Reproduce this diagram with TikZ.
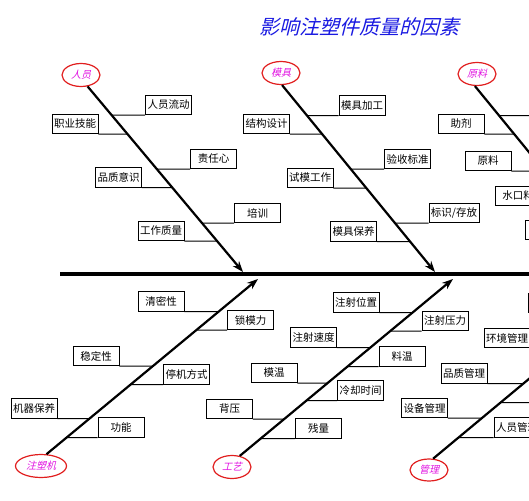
\documentclass[tikz,border=0pt]{standalone}
\usepackage{fontspec}
\newfontfamily\cjk{Noto Sans CJK SC}
\newfontfamily\cjkit[FakeSlant=0.25]{Noto Sans CJK SC}
\usetikzlibrary{arrows.meta,shapes.geometric}
\definecolor{titleblue}{RGB}{25,25,225}
\definecolor{groupred}{RGB}{225,30,30}
\definecolor{groupmag}{RGB}{225,20,225}
\tikzset{
  cause/.style={draw,line width=0.7pt,minimum width=46pt,minimum height=19.5pt,inner sep=1pt,font=\cjk\fontsize{10.5pt}{12pt}\selectfont},
  group/.style={ellipse,draw=groupred,line width=1.2pt,minimum width=38pt,minimum height=23pt,inner sep=0pt,text=groupmag,font=\cjkit\fontsize{10pt}{12pt}\selectfont},
  bone/.style={->,line width=2.2pt},
  twig/.style={line width=0.8pt},
}
\begin{document}
\begin{tikzpicture}[x=1pt,y=-1pt,>={Stealth[length=11pt,width=8pt]}]
\useasboundingbox (0,0) rectangle (529,500);
\clip (0,0) rectangle (529,500);

\node[text=titleblue,font=\cjkit\fontsize{20pt}{24pt}\selectfont] (title) at (359,27) {影响注塑件质量的因素};

\coordinate (tail) at (60,274);
\coordinate (head) at (560,274);
\draw[line width=3.2pt] (tail) -- (head);

% upper bones
\node[group] (ry) at (81,75) {人员};
\node[group] (mj) at (281,73) {模具};
\node[group] (yl) at (477,74) {原料};
\coordinate (rys) at (ry.-60);
\coordinate (mjs) at (mj.-85);
\coordinate (yls) at (yl.-100);
\coordinate (ryt) at (243,272);
\coordinate (mjt) at (435,272);
\coordinate (ylt) at (627,272);
\draw[bone] (rys) -- (ryt);
\draw[bone] (mjs) -- (mjt);
\draw[bone] (yls) -- (ylt);

% lower bones
\node[group,minimum width=51pt] (zsj) at (41,466) {注塑机};
\node[group] (gy) at (232,467) {工艺};
\node[group,minimum height=22pt] (gl) at (429,470) {管理};
\coordinate (zsjs) at (zsj.65);
\coordinate (gys) at (gy.55);
\coordinate (gls) at (gl.70);
\coordinate (zsjt) at (258,279);
\coordinate (gyt) at (453,279);
\coordinate (glt) at (649,279);
\draw[bone] (zsjs) -- (zsjt);
\draw[bone] (gys) -- (gyt);
\draw[bone] (gls) -- (glt);

% 人员
\node[cause] (ryld) at (168.5,105) {人员流动};
\node[cause] (zyjn) at (75,124) {职业技能};
\node[cause] (zrx) at (213.5,159) {责任心};
\node[cause] (pzys) at (118.5,177.5) {品质意识};
\node[cause] (px) at (257.5,213) {培训};
\node[cause] (gzzl) at (161,231) {工作质量};
\draw[twig] (ryld.south west) -- (intersection of rys--ryt and ryld.south west--ryld.south east);
\draw[twig] (zyjn.south east) -- (intersection of rys--ryt and zyjn.south west--zyjn.south east);
\draw[twig] (zrx.south west) -- (intersection of rys--ryt and zrx.south west--zrx.south east);
\draw[twig] (pzys.south east) -- (intersection of rys--ryt and pzys.south west--pzys.south east);
\draw[twig] (px.south west) -- (intersection of rys--ryt and px.south west--px.south east);
\draw[twig] (gzzl.south east) -- (intersection of rys--ryt and gzzl.south west--gzzl.south east);

% 模具
\node[cause] (mjjg) at (362,105.5) {模具加工};
\node[cause] (jgsj) at (266.5,124) {结构设计};
\node[cause] (ysbz) at (407.5,159) {验收标准};
\node[cause] (smgz) at (310,178) {试模工作};
\node[cause,minimum width=50pt] (bscf) at (454,213) {标识/存放};
\node[cause] (mjby) at (353.5,231.5) {模具保养};
\draw[twig] (mjjg.south west) -- (intersection of mjs--mjt and mjjg.south west--mjjg.south east);
\draw[twig] (jgsj.south east) -- (intersection of mjs--mjt and jgsj.south west--jgsj.south east);
\draw[twig] (ysbz.south west) -- (intersection of mjs--mjt and ysbz.south west--ysbz.south east);
\draw[twig] (smgz.south east) -- (intersection of mjs--mjt and smgz.south west--smgz.south east);
\draw[twig] (bscf.south west) -- (intersection of mjs--mjt and bscf.south west--bscf.south east);
\draw[twig] (mjby.south east) -- (intersection of mjs--mjt and mjby.south west--mjby.south east);

% 原料
\node[cause] (ylr) at (553,105.5) {};
\node[cause] (zj) at (461,124) {助剂};
\node[cause] (ylb) at (488,161) {原料};
\node[cause] (skl) at (518,196) {水口料};
\node[cause] (yll) at (548,230) {};
\draw[twig] (ylr.south west) -- (intersection of yls--ylt and ylr.south west--ylr.south east);
\draw[twig] (zj.south east) -- (intersection of yls--ylt and zj.south west--zj.south east);
\draw[twig] (ylb.south east) -- (intersection of yls--ylt and ylb.south west--ylb.south east);
\draw[twig] (skl.south east) -- (intersection of yls--ylt and skl.south west--skl.south east);
\draw[twig] (yll.south east) -- (intersection of yls--ylt and yll.south west--yll.south east);

% 注塑机
\node[cause] (qmx) at (161,301.5) {清密性};
\node[cause] (smli) at (250.5,320) {锁模力};
\node[cause] (wdx) at (96,356) {稳定性};
\node[cause] (tjfs) at (186.5,374.5) {停机方式};
\node[cause] (jqby) at (34,408.5) {机器保养};
\node[cause] (gn) at (121,427.5) {功能};
\draw[twig] (qmx.south east) -- (intersection of zsjs--zsjt and qmx.south west--qmx.south east);
\draw[twig] (smli.south west) -- (intersection of zsjs--zsjt and smli.south west--smli.south east);
\draw[twig] (wdx.south east) -- (intersection of zsjs--zsjt and wdx.south west--wdx.south east);
\draw[twig] (tjfs.south west) -- (intersection of zsjs--zsjt and tjfs.south west--tjfs.south east);
\draw[twig] (jqby.south east) -- (intersection of zsjs--zsjt and jqby.south west--jqby.south east);
\draw[twig] (gn.south west) -- (intersection of zsjs--zsjt and gn.south west--gn.south east);

% 工艺
\node[cause] (zswz) at (356,302.5) {注射位置};
\node[cause] (zsyl) at (445,321) {注射压力};
\node[cause] (zssd) at (313.5,337.5) {注射速度};
\node[cause] (lw) at (402,356.5) {料温};
\node[cause] (mw) at (274,373) {模温};
\node[cause] (lqsj) at (360.5,390.5) {冷却时间};
\node[cause] (by) at (229.5,409) {背压};
\node[cause] (cl) at (318.5,428.5) {残量};
\draw[twig] (zswz.south east) -- (intersection of gys--gyt and zswz.south west--zswz.south east);
\draw[twig] (zsyl.south west) -- (intersection of gys--gyt and zsyl.south west--zsyl.south east);
\draw[twig] (zssd.south east) -- (intersection of gys--gyt and zssd.south west--zssd.south east);
\draw[twig] (lw.south west) -- (intersection of gys--gyt and lw.south west--lw.south east);
\draw[twig] (mw.south east) -- (intersection of gys--gyt and mw.south west--mw.south east);
\draw[twig] (lqsj.south west) -- (intersection of gys--gyt and lqsj.south west--lqsj.south east);
\draw[twig] (by.south east) -- (intersection of gys--gyt and by.south west--by.south east);
\draw[twig] (cl.south west) -- (intersection of gys--gyt and cl.south west--cl.south east);

% 管理
\node[cause] (gll) at (551,303) {};
\node[cause] (hjgl) at (507,338) {环境管理};
\node[cause] (pzgl) at (464,373.5) {品质管理};
\node[cause] (glr) at (554,392.5) {};
\node[cause] (sbgl) at (424.5,408) {设备管理};
\node[cause] (rygl) at (517,427.5) {人员管理};
\draw[twig] (gll.south east) -- (intersection of gls--glt and gll.south west--gll.south east);
\draw[twig] (hjgl.south east) -- (intersection of gls--glt and hjgl.south west--hjgl.south east);
\draw[twig] (pzgl.south east) -- (intersection of gls--glt and pzgl.south west--pzgl.south east);
\draw[twig] (glr.south west) -- (intersection of gls--glt and glr.south west--glr.south east);
\draw[twig] (sbgl.south east) -- (intersection of gls--glt and sbgl.south west--sbgl.south east);
\draw[twig] (rygl.south west) -- (intersection of gls--glt and rygl.south west--rygl.south east);
\end{tikzpicture}
\end{document}
